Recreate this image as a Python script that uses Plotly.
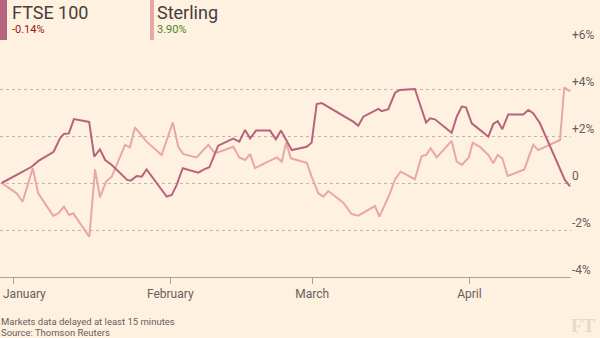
import plotly.graph_objects as go

# ---- data (percent change since 30 Dec 2016) ----
ftse_dates = [
    "2016-12-29 18:00", "2017-01-04 16:00", "2017-01-06 00:00", "2017-01-09 00:00", "2017-01-10 06:00",
    "2017-01-11 00:00", "2017-01-12 00:00", "2017-01-13 00:00", "2017-01-16 00:00", "2017-01-17 00:00",
    "2017-01-18 03:00", "2017-01-19 04:00", "2017-01-20 11:00", "2017-01-23 12:00", "2017-01-24 05:00",
    "2017-01-25 09:00", "2017-01-26 09:00", "2017-01-27 08:00", "2017-01-31 07:00", "2017-02-01 07:00",
    "2017-02-02 06:00", "2017-02-03 11:00", "2017-02-06 13:00", "2017-02-07 16:00", "2017-02-08 17:00",
    "2017-02-10 11:00", "2017-02-13 10:00", "2017-02-14 15:00", "2017-02-15 18:00", "2017-02-16 18:00",
    "2017-02-17 22:00", "2017-02-20 16:00", "2017-02-21 20:00", "2017-02-22 20:00", "2017-02-24 23:00",
    "2017-02-27 22:00", "2017-02-28 21:00", "2017-03-01 21:00", "2017-03-02 21:00", "2017-03-09 02:00",
    "2017-03-10 02:00", "2017-03-11 02:00", "2017-03-14 01:00", "2017-03-14 17:00", "2017-03-16 00:00",
    "2017-03-17 08:00", "2017-03-18 07:00", "2017-03-21 06:00", "2017-03-23 11:00", "2017-03-24 06:00",
    "2017-03-25 05:00", "2017-03-28 12:00", "2017-03-29 12:00", "2017-03-30 12:00", "2017-03-31 08:00",
    "2017-04-01 11:00", "2017-04-03 02:00", "2017-04-04 18:00", "2017-04-05 17:00", "2017-04-06 14:00",
    "2017-04-07 12:00", "2017-04-08 16:00", "2017-04-11 15:00", "2017-04-12 15:00", "2017-04-13 14:00",
    "2017-04-14 22:00", "2017-04-19 20:00", "2017-04-20 20:00",
]
ftse_values = [
    0.0, 0.69, 0.94, 1.33, 1.90, 2.09, 2.11, 2.72, 2.60, 1.12,
    1.43, 0.98, 0.77, 0.13, 0.10, 0.30, 0.27, 0.58, -0.58, -0.51,
    -0.09, 0.63, 0.44, 0.58, 0.67, 1.59, 1.89, 1.76, 2.26, 1.90,
    2.23, 2.23, 1.86, 2.23, 1.40, 1.54, 1.71, 3.36, 3.40, 2.61,
    2.44, 2.82, 3.15, 3.06, 3.14, 3.84, 3.96, 4.00, 2.57, 2.75,
    2.71, 2.14, 2.82, 3.25, 3.22, 2.54, 2.26, 1.97, 2.51, 2.63,
    2.29, 2.92, 2.92, 3.11, 2.97, 2.54, 0.13, -0.14,
]

sterling_dates = [
    "2016-12-29 18:00", "2017-01-01 17:00", "2017-01-02 21:00", "2017-01-04 21:00", "2017-01-05 23:00",
    "2017-01-08 22:00", "2017-01-09 22:00", "2017-01-11 01:00", "2017-01-12 01:00", "2017-01-12 21:00",
    "2017-01-16 01:00", "2017-01-17 04:00", "2017-01-18 03:00", "2017-01-19 08:00", "2017-01-20 11:00",
    "2017-01-23 02:00", "2017-01-24 01:00", "2017-01-25 01:00", "2017-01-27 08:00", "2017-01-30 07:00",
    "2017-02-01 12:00", "2017-02-02 14:00", "2017-02-03 14:00", "2017-02-06 05:00", "2017-02-07 12:00",
    "2017-02-08 12:00", "2017-02-09 20:00", "2017-02-13 10:00", "2017-02-14 15:00", "2017-02-15 18:00",
    "2017-02-16 18:00", "2017-02-17 17:00", "2017-02-22 00:00", "2017-02-23 00:00", "2017-02-23 20:00",
    "2017-02-24 19:00", "2017-02-27 22:00", "2017-02-28 21:00", "2017-03-02 05:00", "2017-03-03 04:00",
    "2017-03-04 04:00", "2017-03-07 03:00", "2017-03-08 19:00", "2017-03-10 02:00", "2017-03-13 09:00",
    "2017-03-14 06:00", "2017-03-16 08:00", "2017-03-17 08:00", "2017-03-18 11:00", "2017-03-21 06:00",
    "2017-03-22 14:00", "2017-03-23 11:00", "2017-03-24 09:00", "2017-03-25 13:00", "2017-03-28 12:00",
    "2017-03-29 12:00", "2017-03-30 12:00", "2017-03-31 21:00", "2017-04-01 16:00", "2017-04-03 02:00",
    "2017-04-04 18:00", "2017-04-05 17:00", "2017-04-06 14:00", "2017-04-07 12:00", "2017-04-08 13:00",
    "2017-04-11 20:00", "2017-04-13 14:00", "2017-04-14 14:00", "2017-04-18 21:00", "2017-04-19 17:00",
    "2017-04-20 20:00",
]
sterling_values = [
    0.0, -0.44, -0.80, 0.63, -0.44, -1.40, -1.29, -1.01, -1.36, -1.29,
    -2.29, 0.58, -0.61, 0.06, 0.27, 1.62, 1.52, 2.37, 1.76, 1.19,
    2.58, 1.54, 1.23, 1.09, 1.40, 1.62, 1.26, 1.54, 1.09, 0.98,
    1.23, 0.63, 1.09, 0.91, 1.71, 1.05, 0.86, 0.27, -0.44, -0.58,
    -0.34, -0.84, -1.32, -1.39, -0.98, -1.43, -0.44, 0.16, 0.48, 0.16,
    1.15, 1.19, 1.48, 1.09, 1.79, 0.91, 0.77, 1.09, 1.71, 1.54,
    1.19, 0.84, 1.19, 1.05, 0.30, 0.58, 1.62, 1.40, 1.83, 4.07,
    3.90,
]

month_ticks = ["2017-01-01", "2017-02-01", "2017-03-01", "2017-04-01"]
month_labels = ["January", "February", "March", "April"]
y_ticks = [-4, -2, 0, 2, 4, 6]
y_labels = ["-4%", "-2%", "0", "+2%", "+4%", "+6%"]

series_names = ["FTSE 100", "Sterling"]
series_changes = ["-0.14%", "3.90%"]

# ---- style ----
BG = "#fff1e0"
FTSE_COL = "#b8637d"
STER_COL = "#e9a6a8"
TEXT = "#66605c"
FONT = "Roboto, 'Open Sans', sans-serif"

fig = go.Figure()
fig.add_trace(go.Scatter(x=sterling_dates, y=sterling_values, mode="lines",
                         line=dict(color=STER_COL, width=2), name=series_names[1]))
fig.add_trace(go.Scatter(x=ftse_dates, y=ftse_values, mode="lines",
                         line=dict(color=FTSE_COL, width=2), name=series_names[0]))

fig.update_layout(
    width=600, height=338, autosize=False,
    paper_bgcolor=BG, plot_bgcolor=BG,
    margin=dict(l=0, r=29, t=42, b=61, pad=0),
    showlegend=False,
    font=dict(family=FONT, color=TEXT, size=12),
    xaxis=dict(
        type="date",
        range=["2016-12-29 10:00", "2017-04-21 01:00"],
        tickvals=month_ticks,
        ticktext=[""] + month_labels[1:],
        ticks="outside", ticklen=6, tickcolor="#a9a19a", tickwidth=1,
        showgrid=False, zeroline=False,
        showline=True, linecolor="#a9a19a", linewidth=1,
        tickfont=dict(size=12, color=TEXT),
        fixedrange=True,
    ),
    yaxis=dict(
        side="right",
        range=[-4, 6],
        tickvals=y_ticks, ticktext=y_labels,
        showgrid=True, gridcolor="#c2b6ab", griddash="dot", gridwidth=1,
        zeroline=False, showline=False, ticks="",
        tickfont=dict(size=12, color=TEXT),
        ticklabelshift=-7,
        fixedrange=True,
    ),
)

# header colour bars
fig.add_shape(type="rect", xref="paper", yref="paper", x0=0, x1=7 / 571,
              y0=(277 - 40) / 235, y1=277 / 235, fillcolor=FTSE_COL, line_width=0)
fig.add_shape(type="rect", xref="paper", yref="paper", x0=150 / 571, x1=154 / 571,
              y0=(277 - 40) / 235, y1=277 / 235, fillcolor=STER_COL, line_width=0)

def ann(text, xshift, yshift, size, color, family=FONT, xanchor="left", x=0, y=1, weight="normal"):
    fig.add_annotation(text=text, xref="paper", yref="paper", x=x, y=y,
                       xanchor=xanchor, yanchor="middle", xshift=xshift, yshift=yshift,
                       showarrow=False,
                       font=dict(size=size, color=color, family=family, weight=weight))

ann(series_names[0], 10, 30, 18, "#43403d")
ann(series_changes[0], 10, 13, 11, "#a0141e")
ann(series_names[1], 155, 30, 18, "#43403d")
ann(series_changes[1], 155, 13, 11, "#3f8a1f")

# January label (left-aligned to stay inside the frame)
ann(month_labels[0], 1, -17, 12, TEXT, y=0)

# footer
ann("Markets data delayed at least 15 minutes", -1, -44, 9.5, TEXT, y=0)
ann("Source: Thomson Reuters", -1, -55, 9.5, TEXT, y=0)
ann("FT", 27, -48, 19, "#e6d9ca", family="'Liberation Serif', 'DejaVu Serif', serif",
    xanchor="right", x=1, y=0, weight="bold")

fig.write_html("out.html")
